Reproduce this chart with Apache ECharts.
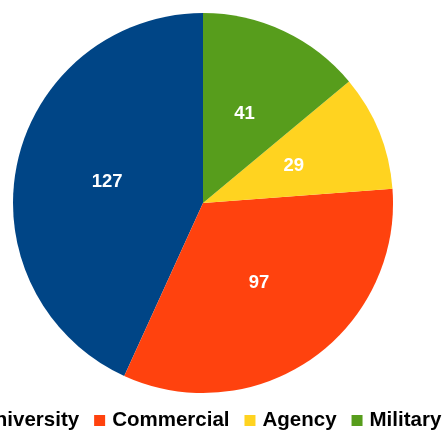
<!DOCTYPE html>
<html>
<head>
<meta charset="utf-8">
<script src="https://cdn.jsdelivr.net/npm/echarts@6/dist/echarts.min.js"></script>
<style>html,body{margin:0;padding:0;background:#fff}#c{width:443px;height:430px}</style>
</head>
<body>
<div id="c"></div>
<script>
var categories = ['University', 'Commercial', 'Agency', 'Military'];
var values = [127, 97, 29, 41];
var colors = ['#004586', '#ff420e', '#ffd320', '#579d1c'];

var chart = echarts.init(document.getElementById('c'), null, {renderer: 'canvas'});
chart.setOption({
  animation: false,
  color: colors,
  legend: {
    data: categories,
    bottom: -1,
    left: -38,
    width: 1000,
    padding: 0,
    itemWidth: 11,
    itemHeight: 11,
    itemGap: 15,
    icon: 'rect',
    textStyle: {fontFamily: 'Liberation Sans', fontWeight: 'bold', fontSize: 20.5, color: '#000', padding: [0, 0, 0, 2]}
  },
  series: [{
    type: 'pie',
    center: [203, 203],
    radius: [0, 190],
    startAngle: 90,
    clockwise: false,
    data: categories.map(function (c, i) { return {name: c, value: values[i]}; }),
    label: {
      show: true,
      position: 'inside',
      formatter: '{c}',
      color: '#fff',
      fontFamily: 'Liberation Sans',
      fontWeight: 'bold',
      fontSize: 18.5
    },
    labelLine: {show: false},
    itemStyle: {borderWidth: 0},
    emphasis: {disabled: true}
  }]
});
</script>
</body>
</html>
